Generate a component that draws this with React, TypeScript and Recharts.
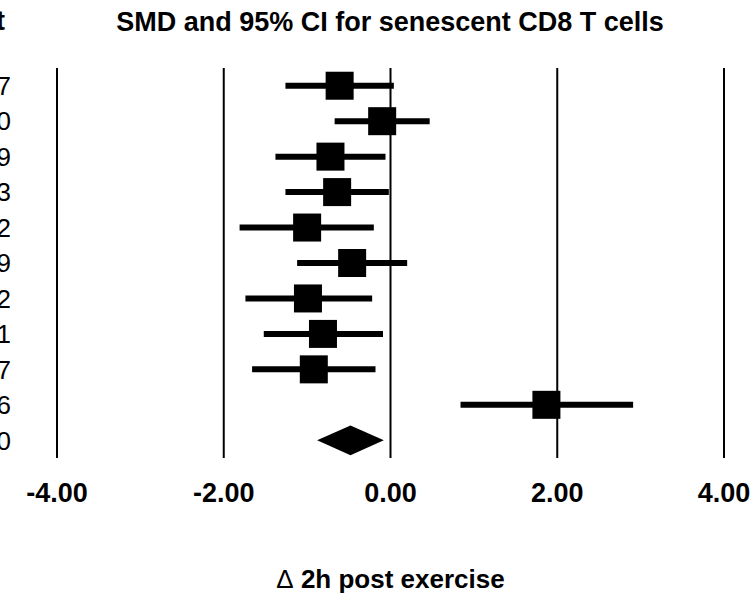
import { Area, CartesianGrid, ComposedChart, ErrorBar, Scatter, XAxis, YAxis } from "recharts";

// clipped tail of the study table on the left edge
const rowTails = ["7", "0", "9", "3", "2", "9", "2", "1", "7", "6", "0"];

// SMD with 95% CI per study
const smd = [-0.61, -0.1, -0.72, -0.64, -1.0, -0.46, -0.99, -0.81, -0.92, 1.87];
const lower = [-1.26, -0.67, -1.38, -1.26, -1.81, -1.12, -1.74, -1.52, -1.66, 0.84];
const upper = [0.04, 0.47, -0.06, -0.02, -0.2, 0.2, -0.22, -0.09, -0.18, 2.91];

// pooled estimate
const pooledSmd = -0.48;
const pooledLower = -0.88;
const pooledUpper = -0.08;

const xTicks = [-4, -2, 0, 2, 4];

const FONT = "'Liberation Sans', Arial, sans-serif";
const DIAMOND_HALF = 0.42;

const studies = smd.map((v, i) => ({
  x: v,
  y: i,
  err: [v - lower[i], upper[i] - v],
}));

const pooledRow = smd.length;
const diamond = [
  { x: pooledLower, band: [pooledRow, pooledRow] },
  { x: pooledSmd, band: [pooledRow + DIAMOND_HALF, pooledRow - DIAMOND_HALF] },
  { x: pooledUpper, band: [pooledRow, pooledRow] },
];

const rowTicks = rowTails.map((_, i) => i);

const Square = (p: any) => (
  <rect x={p.cx - 14} y={p.cy - 14} width={28} height={28} fill="#000" />
);

const AxisTitle = (p: any) => {
  const vb = p.viewBox;
  return (
    <text
      x={vb.x + vb.width / 2}
      y={vb.y + vb.height - 9}
      textAnchor="middle"
      fontFamily={FONT}
      fontSize={26}
      fontWeight="bold"
      fill="#000"
    >
      <tspan fontWeight="normal">Δ</tspan> 2h post exercise
    </text>
  );
};

export default function App() {
  return (
    <div style={{ position: "absolute", left: 0, top: 0, width: 752, height: 597, background: "#fff" }}>
      <ComposedChart
        width={752}
        height={597}
        data={diamond}
        margin={{ top: 68, right: 28, bottom: 0, left: 0 }}
      >
        <CartesianGrid horizontal={false} stroke="#000" strokeWidth={2} />
        <XAxis
          type="number"
          dataKey="x"
          domain={[-4, 4]}
          ticks={xTicks}
          tickFormatter={(v: number) => v.toFixed(2)}
          axisLine={false}
          tickLine={false}
          tickMargin={19}
          height={139}
          tick={{ fontSize: 27, fontWeight: "bold", fill: "#000", fontFamily: FONT }}
          label={{ content: AxisTitle }}
        />
        <YAxis
          type="number"
          dataKey="y"
          domain={[-0.5, 10.5]}
          reversed
          ticks={rowTicks}
          tickFormatter={(v: number) => rowTails[v]}
          axisLine={false}
          tickLine={false}
          tickMargin={40}
          width={57}
          tick={{ fontSize: 26, fill: "#000", fontFamily: FONT }}
        />
        <Area
          type="linear"
          dataKey="band"
          fill="#000"
          fillOpacity={1}
          stroke="none"
          dot={false}
          activeDot={false}
          isAnimationActive={false}
        />
        <Scatter data={studies} shape={Square} isAnimationActive={false}>
          <ErrorBar dataKey="err" direction="x" width={0} strokeWidth={6} stroke="#000" />
        </Scatter>
      </ComposedChart>
      <svg
        width={752}
        height={40}
        style={{ position: "absolute", left: 0, top: 0, pointerEvents: "none" }}
      >
        <text x={5} y={30} textAnchor="end" fontFamily={FONT} fontSize={27} fontWeight="bold" fill="#000">
          t
        </text>
        <text x={390} y={31} textAnchor="middle" fontFamily={FONT} fontSize={27} fontWeight="bold" fill="#000">
          SMD and 95% CI for senescent CD8 T cells
        </text>
      </svg>
    </div>
  );
}
